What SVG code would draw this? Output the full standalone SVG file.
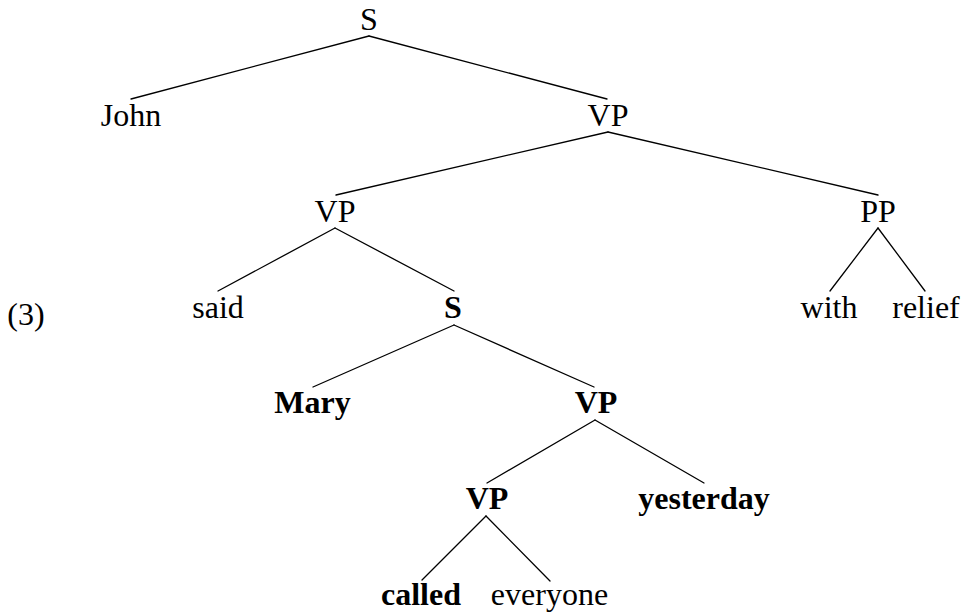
<svg xmlns="http://www.w3.org/2000/svg" width="964" height="614" viewBox="0 0 964 614">
<style>
text{font-family:"Liberation Serif","Times New Roman",serif;font-size:32px;fill:#000;text-anchor:middle}
.b{font-weight:bold}
#edges line{stroke:#000;stroke-width:1.3;stroke-linecap:round}
</style>
<rect width="964" height="614" fill="#fff"/>
<g id="edges">
<line x1="369" y1="36" x2="131" y2="99"/>
<line x1="369" y1="36" x2="607" y2="99"/>
<line x1="608" y1="132" x2="336" y2="195"/>
<line x1="608" y1="132" x2="878" y2="195"/>
<line x1="335" y1="228" x2="218" y2="291"/>
<line x1="335" y1="228" x2="454" y2="291"/>
<line x1="878" y1="228" x2="830" y2="291"/>
<line x1="878" y1="228" x2="925" y2="291"/>
<line x1="454" y1="325" x2="313" y2="387"/>
<line x1="454" y1="325" x2="594" y2="387"/>
<line x1="595" y1="420" x2="487" y2="483"/>
<line x1="595" y1="420" x2="704" y2="483"/>
<line x1="486" y1="516" x2="422" y2="580"/>
<line x1="486" y1="516" x2="550" y2="581"/>
</g>
<g id="label"><text x="26" y="325">(3)</text></g>
<g id="n-S"><text x="369" y="30">S</text></g>
<g id="n-John"><text x="131" y="126">John</text></g>
<g id="n-VP1"><text x="608" y="126">VP</text></g>
<g id="n-VP2"><text x="335" y="222">VP</text></g>
<g id="n-PP"><text x="878" y="222">PP</text></g>
<g id="n-said"><text x="218" y="318">said</text></g>
<g id="n-S2"><text class="b" x="453" y="318">S</text></g>
<g id="n-with"><text x="829" y="318">with</text></g>
<g id="n-relief"><text x="926" y="318">relief</text></g>
<g id="n-Mary"><text class="b" x="312.5" y="413">Mary</text></g>
<g id="n-VP3"><text class="b" x="596" y="413">VP</text></g>
<g id="n-VP4"><text class="b" x="487" y="509">VP</text></g>
<g id="n-yesterday"><text class="b" x="704" y="509">yesterday</text></g>
<g id="n-called"><text class="b" x="421" y="605">called</text></g>
<g id="n-everyone"><text x="549.5" y="605">everyone</text></g>
</svg>
